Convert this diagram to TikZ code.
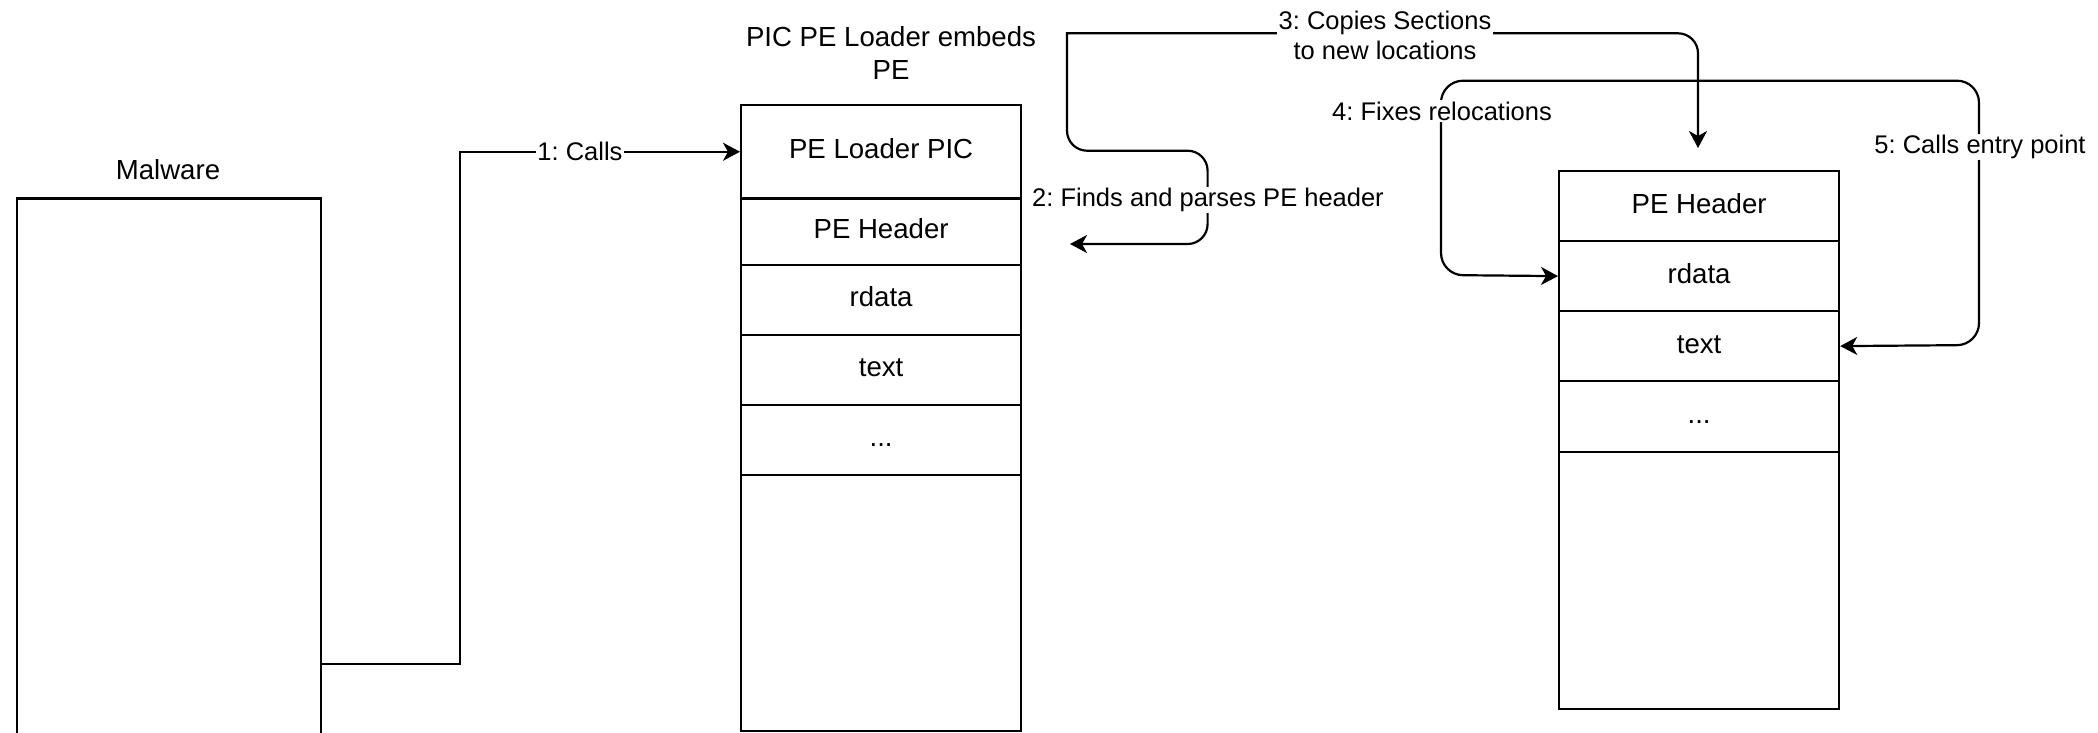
\documentclass[tikz,border=0pt]{standalone}
\usepackage{fontspec}
\setmainfont{Liberation Sans}
\usetikzlibrary{arrows.meta}
\frenchspacing
\begin{document}
\frenchspacing
\begin{tikzpicture}[x=1pt,y=-1pt,
  cell/.style={draw=black, line width=2.2pt, fill=white, inner sep=0pt,
    text height=20pt, text depth=6pt,
    font=\fontsize{27.6}{33}\selectfont, minimum width=280pt, anchor=north west},
  ttl/.style={font=\fontsize{27.6}{33}\selectfont, align=center, inner sep=0pt},
  elbl/.style={fill=white, font=\fontsize{25.5}{30}\selectfont, inner sep=1.5pt, align=center},
  tipa/.tip={Stealth[length=17pt,width=18pt,inset=5pt]},
  conn/.style={draw=black, line width=2.2pt, -tipa},
  conn2/.style={draw=black, line width=2.2pt, tipa-tipa}
]
\clip (0,0) rectangle (2098,732);
\fill[white] (0,0) rectangle (2098,732);

% Malware box
\node[cell, minimum width=303.6pt, minimum height=560pt] (mal) at (16,197.4) {};
\node[ttl] (maltitle) at (168,170) {Malware};

% PIC PE loader box
\node[ttl] (pictitle) at (891,53.3) {PIC PE Loader embeds\\PE};
\node[cell, minimum height=93.3pt] (m1) at (740,104) {PE Loader PIC};
\node[cell, minimum height=66.7pt] (m2) at (740,197.3) {PE Header};
\node[cell, minimum height=69.5pt] (m3) at (740,264) {rdata};
\node[cell, minimum height=70pt] (m4) at (740,333.5) {text};
\node[cell, minimum height=70pt] (m5) at (740,403.5) {...};
\node[cell, minimum height=256.5pt] (m6) at (740,473.5) {};

% Loaded PE box
\node[cell, minimum height=70pt] (r1) at (1558,170) {PE Header};
\node[cell, minimum height=70pt] (r2) at (1558,240) {rdata};
\node[cell, minimum height=70pt] (r3) at (1558,310) {text};
\node[cell, minimum height=70.5pt] (r4) at (1558,380) {...};
\node[cell, minimum height=257pt] (r5) at (1558,450.5) {};

% 1: Calls
\coordinate (k1) at (459.8,663.8);
\draw[conn] (mal.east |- k1) -- (k1) |- (m1.west);
\node[elbl] (l1) at (580,151.3) {1: Calls};

% 2 and 3
\coordinate (t2) at (1070,244);
\coordinate (t3) at (1698,148);
\draw[conn2, rounded corners=20pt] (t2) -- (1207.6,244) -- (1207.6,150.7) -- (1067,150.7)
  [sharp corners] -- (1067,33.3) [rounded corners=20pt] -- (1698,33.3) -- (t3);
\node[elbl] (l2) at (1208,200) {2: Finds and parses PE header};
\node[elbl, inner sep=2pt] (l3) at (1385,35) {3: Copies Sections\\to new locations};

% 4 and 5
\draw[conn2, rounded corners=22pt] (r2.west) -- (1441,275) -- (1441,80.7) -- (1979,80.7) -- (1979,345) -- (r3.east);
\node[elbl] (l4) at (1442,111) {4: Fixes relocations};
\node[elbl] (l5) at (1980,147) {5: Calls entry point};
\end{tikzpicture}
\end{document}
